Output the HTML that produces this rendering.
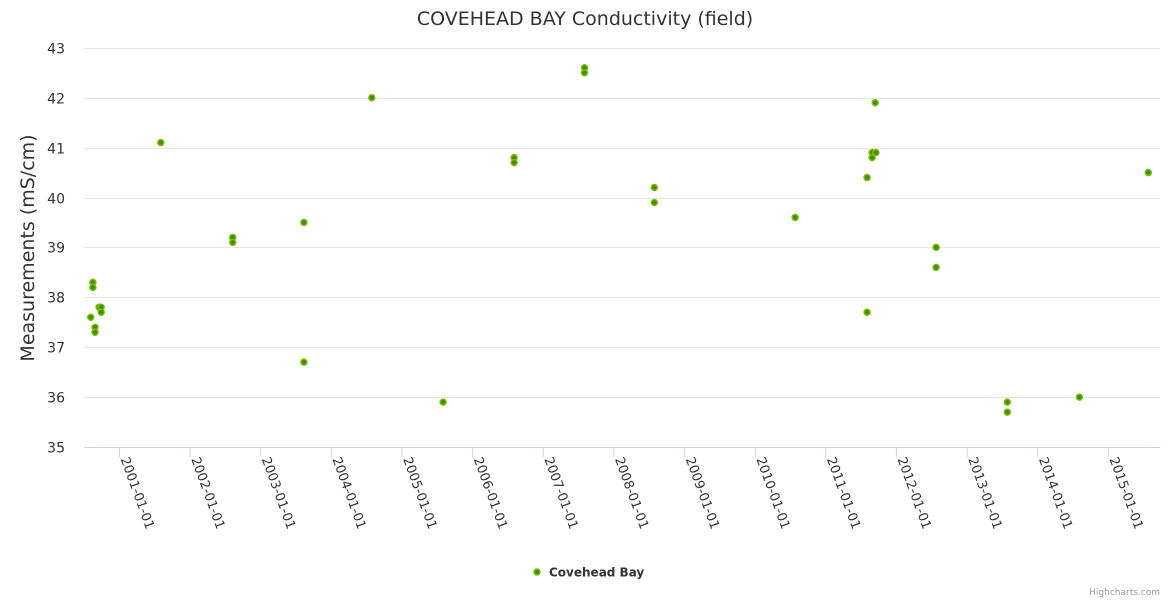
<!DOCTYPE html>
<html>
<head>
<meta charset="utf-8">
<style>
  html, body { margin: 0; padding: 0; background: #fff; }
  svg { display: block; font-family: "DejaVu Sans", "Liberation Sans", sans-serif; }
</style>
</head>
<body>
<svg id="chart" width="1170" height="600" viewBox="0 0 1170 600">
  <rect x="0" y="0" width="1170" height="600" fill="#fff"></rect>
  <text x="585" y="25" text-anchor="middle" font-size="19" fill="#333">COVEHEAD BAY Conductivity (field)</text>
  <g id="grid"></g>
  <g id="yticks"></g>
  <g id="xticks"></g>
  <line x1="84" y1="447.5" x2="1160" y2="447.5" stroke="#ccd6eb"></line>
  <text transform="translate(34,248) rotate(-90)" text-anchor="middle" font-size="19" fill="#333">Measurements (mS/cm)</text>
  <g id="points"></g>
  <g>
    <circle cx="537" cy="572" r="3" fill="#3e8e00" stroke="#7bbf00" stroke-width="1.5"></circle>
    <text x="549" y="576.5" font-size="12" font-weight="bold" fill="#333">Covehead Bay</text>
  </g>
  <text x="1160" y="595" text-anchor="end" font-size="9" fill="#999">Highcharts.com</text>
</svg>
<script>
const dates = ["2000-08-08","2000-08-19","2000-08-19","2000-08-30","2000-08-30","2000-09-20","2000-10-01","2000-10-01",
  "2001-08-05","2002-08-12","2002-08-12","2003-08-15","2003-08-15","2004-07-31","2005-08-04","2006-08-06","2006-08-06",
  "2007-08-05","2007-08-05","2008-07-31","2008-07-31","2010-07-29","2011-08-05","2011-08-05","2011-08-31","2011-08-31",
  "2011-09-16","2011-09-20","2012-07-27","2012-07-27","2013-07-30","2013-07-30","2014-08-07","2015-07-29"];
const values = [37.6,38.3,38.2,37.4,37.3,37.8,37.8,37.7,
  41.1,39.2,39.1,39.5,36.7,42.0,35.9,40.8,40.7,
  42.6,42.5,40.2,39.9,39.6,40.4,37.7,40.9,40.8,
  41.9,40.9,39.0,38.6,35.9,35.7,36.0,40.5];
const yTicks = [35,36,37,38,39,40,41,42,43];
const xTickLabels = ["2001-01-01","2002-01-01","2003-01-01","2004-01-01","2005-01-01","2006-01-01","2007-01-01",
  "2008-01-01","2009-01-01","2010-01-01","2011-01-01","2012-01-01","2013-01-01","2014-01-01","2015-01-01"];

const NS = "http://www.w3.org/2000/svg";
const t0 = Date.parse("2001-01-01T00:00:00Z");
const YEAR = 365.25 * 86400000;
function xScale(d) { return 119.5 + (Date.parse(d + "T00:00:00Z") - t0) / YEAR * 70.64; }
function yScale(v) { return 447 - (v - 35) * 49.9; }

const grid = document.getElementById("grid");
const yt = document.getElementById("yticks");
yTicks.forEach(v => {
  const y = Math.round(yScale(v)) + 0.5;
  if (v !== 35) {
    const l = document.createElementNS(NS, "line");
    l.setAttribute("x1", 84); l.setAttribute("x2", 1160);
    l.setAttribute("y1", y); l.setAttribute("y2", y);
    l.setAttribute("stroke", "#e6e6e6");
    
    
    grid.appendChild(l);
  }
  const t = document.createElementNS(NS, "text");
  t.setAttribute("x", 65); t.setAttribute("y", y + 5);
  t.setAttribute("text-anchor", "end");
  t.setAttribute("font-size", "14"); t.setAttribute("fill", "#333");
  t.textContent = v;
  
  
  yt.appendChild(t);
});

const xt = document.getElementById("xticks");
xTickLabels.forEach(d => {
  const x = xScale(d);
  const tk = document.createElementNS(NS, "line");
  tk.setAttribute("x1", x); tk.setAttribute("x2", x);
  tk.setAttribute("y1", 447); tk.setAttribute("y2", 457);
  tk.setAttribute("stroke", "#ccd6eb");
  
  
  xt.appendChild(tk);
  const t = document.createElementNS(NS, "text");
  t.setAttribute("transform", "translate(" + (x + 1) + ",459) rotate(70)");
  t.setAttribute("font-size", "13"); t.setAttribute("fill", "#333");
  t.textContent = d;
  
  
  xt.appendChild(t);
});

const pts = document.getElementById("points");
dates.forEach((d, i) => {
  const c = document.createElementNS(NS, "circle");
  c.setAttribute("cx", xScale(d) - 0.5);
  c.setAttribute("cy", yScale(values[i]));
  c.setAttribute("r", 3);
  c.setAttribute("fill", "#3e8e00");
  c.setAttribute("stroke", "#7bbf00");
  c.setAttribute("stroke-width", "1.5");
  
  
  pts.appendChild(c);
});
</script>
</body>
</html>
